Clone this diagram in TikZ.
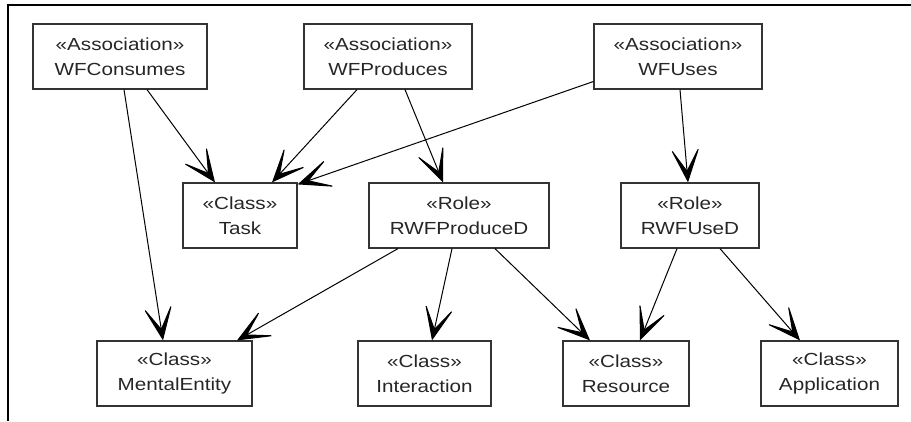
\documentclass[tikz,border=0pt]{standalone}
\usepackage{fontspec}
\newfontfamily\umlfont[FakeStretch=1.18]{Liberation Sans}
\usetikzlibrary{arrows.meta}

\tikzset{
	umlbox/.style={shape=rectangle, draw=black!80, line width=1.2pt, text=black!85,
		minimum height=65pt, inner sep=0pt, align=center,
		font=\umlfont\fontsize{17.5}{25}\selectfont},
	uml/.style={draw=black, line width=1pt,
		-{Stealth[length=38pt, width=32pt, inset=26pt]}}
}

\begin{document}
\begin{tikzpicture}[x=1pt, y=-1pt]
	\useasboundingbox (0,0) rectangle (911,421);
	\draw[line width=2.2pt] (911,5) -- (8,5) -- (8,421);

	\node[umlbox, minimum width=174pt]  (wfconsumes)   at (120,56.5)   {«Association»\\WFConsumes};
	\node[umlbox, minimum width=168pt]  (wfproduces)   at (388,56.5)   {«Association»\\WFProduces};
	\node[umlbox, minimum width=168pt]  (wfuses)       at (678,56.5)   {«Association»\\WFUses};
	\node[umlbox, minimum width=114pt]  (task)         at (240,215.5)  {«Class»\\Task};
	\node[umlbox, minimum width=180pt]  (rwfproduced)  at (459,215.5)  {«Role»\\RWFProduceD};
	\node[umlbox, minimum width=138pt]  (rwfused)      at (690,215.5)  {«Role»\\RWFUseD};
	\node[umlbox, minimum width=155pt]  (mentalentity) at (174.5,373.5) {«Class»\\MentalEntity};
	\node[umlbox, minimum width=133pt]  (interaction)  at (424.5,373.5) {«Class»\\Interaction};
	\node[umlbox, minimum width=126pt]  (resource)     at (626,373.5)   {«Class»\\Resource};
	\node[umlbox, minimum width=137pt]  (application)  at (829.5,373.5) {«Class»\\Application};

	\draw [uml] ([xshift=4pt]wfconsumes.south)    -- ([xshift=-11.5pt]mentalentity.north);
	\draw [uml] ([xshift=27pt]wfconsumes.south)   -- ([xshift=-25pt]task.north);
	\draw [uml] ([xshift=-31pt]wfproduces.south)  -- ([xshift=32pt]task.north);
	\draw [uml] ([yshift=-25pt]wfuses.west)       -- ([yshift=-2pt]task.north east);
	\draw [uml] ([xshift=17pt]wfproduces.south)   -- ([xshift=-16pt]rwfproduced.north);
	\draw [uml] ([xshift=2pt]wfuses.south)        -- ([xshift=-2pt]rwfused.north);
	\draw [uml] ([xshift=-61pt]rwfproduced.south) -- ([xshift=62.5pt]mentalentity.north);
	\draw [uml] ([xshift=-7pt]rwfproduced.south)  -- ([xshift=7.5pt]interaction.north);
	\draw [uml] ([xshift=36pt]rwfproduced.south)  -- ([xshift=-36pt]resource.north);
	\draw [uml] ([xshift=-13pt]rwfused.south)     -- ([xshift=14pt]resource.north);
	\draw [uml] ([xshift=30pt]rwfused.south)      -- ([xshift=-29.5pt]application.north);
\end{tikzpicture}
\end{document}
